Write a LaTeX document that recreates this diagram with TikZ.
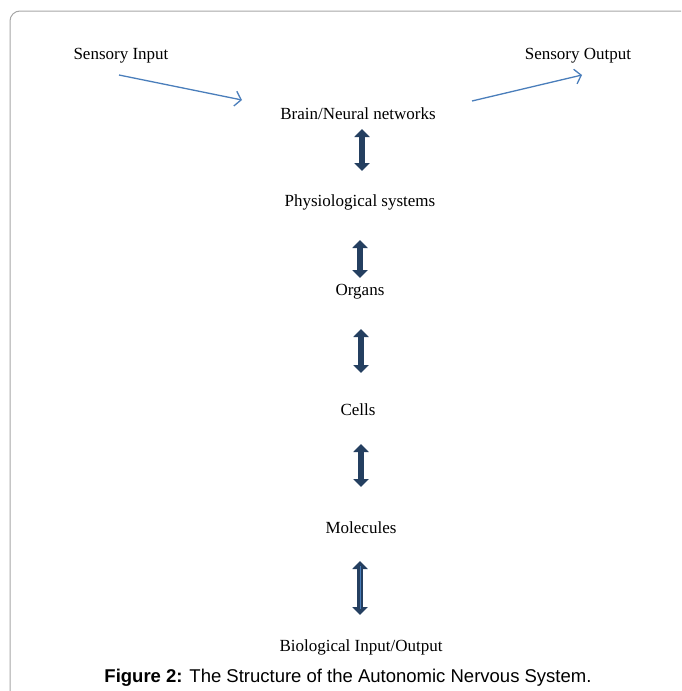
\documentclass[tikz,border=0pt]{standalone}
\usepackage{fontspec}
\setmainfont{Liberation Serif}
\newfontfamily\capfont{Liberation Sans}
\usetikzlibrary{arrows.meta}
\definecolor{lineblue}{HTML}{4A7EBB}
\definecolor{darkblue}{HTML}{243F60}
\definecolor{framegray}{HTML}{A6A6A6}

\begin{document}
\begin{tikzpicture}[x=1pt,y=-1pt,
    txt/.style={font=\fontsize{17}{20}\selectfont,inner sep=0pt},
    inarrow/.style={lineblue,line width=1.3pt,-{Straight Barb[length=6pt,width=15pt]}},
    updown/.style={darkblue,line width=6.5pt,{Triangle[length=8pt,width=15pt]}-{Triangle[length=8pt,width=15pt]}}]
    \useasboundingbox (0,0) rectangle (681,691);
    \draw[framegray,line width=1pt,rounded corners=10pt] (10,691) -- (10,11) -- (681,11);

    \node[txt] (SI) at (121,56) {Sensory Input};
    \node[txt] (SO) at (578,56) {Sensory Output};
    \node[txt] (BN) at (358,114) {Brain/Neural networks};
    \node[txt] (PS) at (360,202) {Physiological systems};
    \node[txt] (OR) at (360,292) {Organs};
    \node[txt] (CE) at (358,410) {Cells};
    \node[txt] (MO) at (361,528) {Molecules};
    \node[txt] (BIO) at (361,647) {Biological Input/Output};
    \node[font=\capfont\fontsize{18.5}{21}\selectfont,inner sep=0pt] (CAP) at (348,678)
        {\textbf{Figure 2:} The Structure of the Autonomic Nervous System.};

    % free ends of the two thin arrows
    \coordinate (SIa) at (119,75);
    \coordinate (SIb) at (242,100);
    \coordinate (SOa) at (472,101);
    \coordinate (SOb) at (582,75);
    \draw[inarrow] (SIa) -- (SIb);
    \draw[inarrow] (SOa) -- (SOb);

    \draw[updown,shorten <=15pt,shorten >=31pt] ([xshift=4pt]BN.center) -- ([xshift=2pt]PS.center);
    \draw[updown,shorten <=38pt,shorten >=14pt] (PS.center) -- (OR.center);
    \draw[updown,shorten <=37pt,shorten >=37pt] ([xshift=1pt]OR.center) -- ([xshift=3pt]CE.center);
    \draw[updown,shorten <=34pt,shorten >=41pt] ([xshift=3pt]CE.center) -- (MO.center);
    \draw[updown,shorten <=33pt,shorten >=32pt] ([xshift=-1pt]MO.center) -- ([xshift=-1pt]BIO.center);
    \draw[lineblue,line width=1pt,shorten <=38pt,shorten >=38pt] ([xshift=-1pt]MO.center) -- ([xshift=-1pt]BIO.center);
\end{tikzpicture}
\end{document}
